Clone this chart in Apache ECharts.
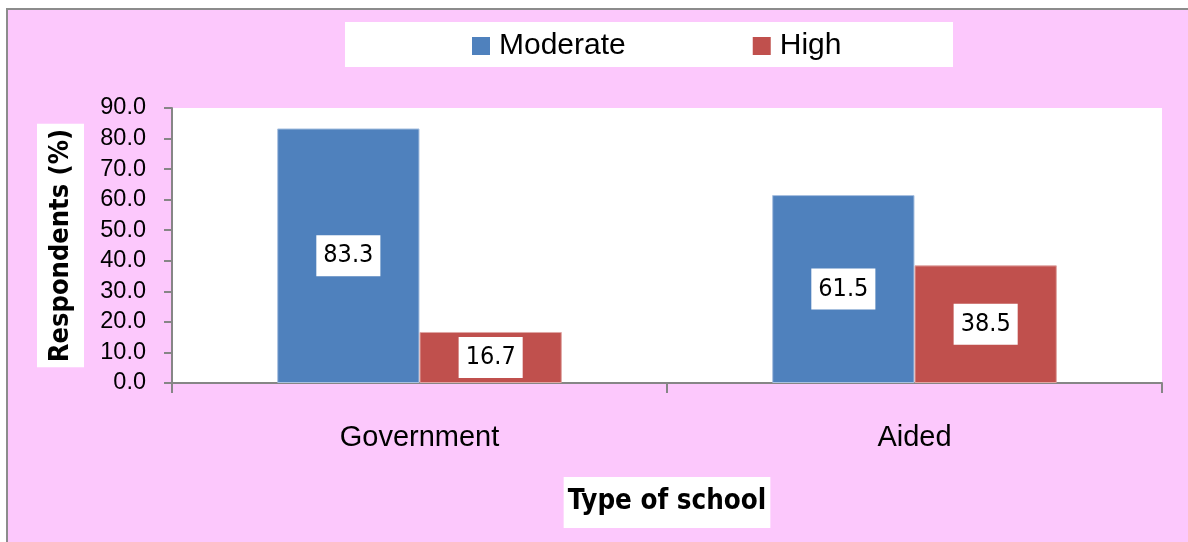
<!DOCTYPE html>
<html>
<head>
<meta charset="utf-8">
<script src="https://cdn.jsdelivr.net/npm/echarts@6/dist/echarts.min.js"></script>
<style>
html,body{margin:0;padding:0;background:#fff;}
#c{width:1188px;height:542px;}
</style>
</head>
<body>
<div id="c"></div>
<script>
const categories = ['Government', 'Aided'];
const seriesNames = ['Moderate', 'High'];
const moderateValues = [83.3, 61.5];
const highValues = [16.7, 38.5];
const yAxisTitle = 'Respondents (%)';
const xAxisTitle = 'Type of school';

const SANS = "'Liberation Sans', Arial, sans-serif";
const NARROW = "'Liberation Sans Narrow', 'Arial Narrow', 'DejaVu Sans Condensed', sans-serif";

const chart = echarts.init(document.getElementById('c'), null, {renderer: 'canvas'});

function labelCfg() {
  return {
    show: true,
    position: 'inside',
    formatter: p => p.value.toFixed(1),
    backgroundColor: '#ffffff',
    padding: [8, 7, 8, 7],
    fontFamily: NARROW,
    fontSize: 25,
    color: '#000000'
  };
}

const option = {
  backgroundColor: '#ffffff',
  animation: false,
  graphic: [
    {
      type: 'rect', z: -10, silent: true,
      shape: {x: 7, y: 9, width: 1200, height: 560},
      style: {fill: '#FCC8FC', stroke: '#8C8C8C', lineWidth: 2}
    },
    {
      type: 'rect', z: -5, silent: true,
      shape: {x: 345, y: 22, width: 608, height: 45},
      style: {fill: '#ffffff'}
    }
  ],
  legend: {
    data: seriesNames,
    left: 467,
    top: 26,
    itemWidth: 18,
    itemHeight: 18,
    itemGap: 127,
    icon: 'rect',
    itemStyle: {borderWidth: 0},
    textStyle: {fontFamily: SANS, fontSize: 30, color: '#000', lineHeight: 30, padding: [0, 0, 0, 4]}
  },
  grid: {
    left: 172, right: 26, top: 108, bottom: 159,
    show: true, backgroundColor: '#ffffff', borderWidth: 0,
    containLabel: false
  },
  xAxis: {
    type: 'category',
    data: categories,
    name: xAxisTitle,
    nameLocation: 'middle',
    nameGap: 94,
    nameTextStyle: {
      fontFamily: NARROW, fontWeight: 'bold', fontSize: 27.5, color: '#000',
      backgroundColor: '#ffffff', padding: [11, 4, 12, 4]
    },
    axisLine: {lineStyle: {color: '#868686', width: 2}},
    axisTick: {show: true, length: 10, lineStyle: {color: '#868686', width: 2}},
    axisLabel: {fontFamily: SANS, fontSize: 29, color: '#000', margin: 40}
  },
  yAxis: {
    type: 'value',
    min: 0, max: 90, interval: 10,
    name: yAxisTitle,
    nameLocation: 'middle',
    nameGap: 88,
    nameRotate: 90,
    nameTextStyle: {
      fontFamily: NARROW, fontWeight: 'bold', fontSize: 27, color: '#000',
      backgroundColor: '#ffffff', padding: [10, 5, 10, 5]
    },
    axisLine: {show: true, lineStyle: {color: '#868686', width: 2}},
    axisTick: {show: true, length: 8, lineStyle: {color: '#868686', width: 2}},
    splitLine: {show: false},
    axisLabel: {fontFamily: SANS, fontSize: 23.5, color: '#000', margin: 26, formatter: v => v.toFixed(1)}
  },
  series: [
    {
      name: seriesNames[0], type: 'bar', data: moderateValues,
      barGap: '0%', barCategoryGap: '42.5%',
      itemStyle: {color: '#4F81BD', borderColor: '#A9C1E0', borderWidth: 1},
      label: labelCfg()
    },
    {
      name: seriesNames[1], type: 'bar', data: highValues,
      barGap: '0%', barCategoryGap: '42.5%',
      itemStyle: {color: '#C0504D', borderColor: '#E0A6A4', borderWidth: 1},
      label: labelCfg()
    }
  ]
};
chart.setOption(option);
</script>
</body>
</html>
